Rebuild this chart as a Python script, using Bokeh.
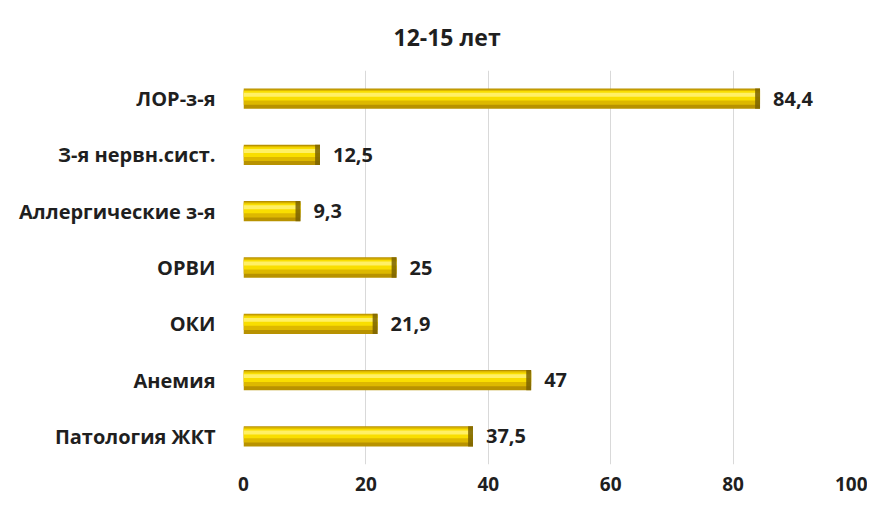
from bokeh.plotting import figure
from bokeh.models import FactorRange, ColumnDataSource, FixedTicker, Title
from bokeh.transform import dodge
from bokeh.core.properties import value
from bokeh.embed import file_html
from bokeh.resources import INLINE

title_text = "12-15 лет"
categories = ["ЛОР-з-я", "З-я нервн.сист.", "Аллергические з-я", "ОРВИ", "ОКИ", "Анемия", "Патология ЖКТ"]
values = [84.4, 12.5, 9.3, 25, 21.9, 47, 37.5]
value_labels = ["84,4", "12,5", "9,3", "25", "21,9", "47", "37,5"]
x_ticks = [0, 20, 40, 60, 80, 100]

FONT = "Open Sans"
TXT = "#1F1F1F"

src = ColumnDataSource(dict(
    cat=categories,
    val=values,
    lab=value_labels,
    cap=[v - 0.8 for v in values],
    zero=[0] * len(values),
))

p = figure(
    y_range=FactorRange(factors=list(reversed(categories))),
    x_range=(0, 100),
    frame_width=612, frame_height=394,
    min_border_left=243, min_border_right=12, min_border_top=66, min_border_bottom=33,
    output_backend="svg", toolbar_location=None,
    background_fill_color="white", border_fill_color="white",
)
p.outline_line_color = None

t = Title(text=title_text, align="left", offset=150, standoff=36,
          text_font=FONT, text_font_size="23px", text_font_style="bold",
          text_color=TXT)
p.add_layout(t, "above")

# bar layers for a cylinder-like gold look
p.hbar(y="cat", left="zero", right="val", height=0.36, source=src,
       fill_color="#B89200", line_color=None)
p.hbar(y=dodge("cat", 0.025, range=p.y_range), left="zero", right="val", height=0.27, source=src,
       fill_color="#DDB800", line_color=None)
p.hbar(y=dodge("cat", 0.05, range=p.y_range), left="zero", right="val", height=0.17, source=src,
       fill_color="#F9DE00", line_color=None)
p.hbar(y=dodge("cat", 0.07, range=p.y_range), left="zero", right="val", height=0.07, source=src,
       fill_color="#FFF066", line_color=None)
p.hbar(y="cat", left="cap", right="val", height=0.36, source=src,
       fill_color="#7A6200", fill_alpha=0.85, line_color=None)

p.text(x="val", y="cat", text="lab", source=src, x_offset=13,
       text_baseline="middle", text_align="left",
       text_font=value(FONT), text_font_size="20px", text_font_style="bold",
       text_color=TXT)

p.xgrid.ticker = FixedTicker(ticks=x_ticks)
p.xgrid.grid_line_color = "#D9D9D9"
p.ygrid.grid_line_color = None

p.xaxis.ticker = FixedTicker(ticks=x_ticks)
for ax in (p.xaxis[0], p.yaxis[0]):
    ax.axis_line_color = None
    ax.major_tick_line_color = None
    ax.minor_tick_line_color = None
    ax.major_label_text_font = FONT
    ax.major_label_text_font_style = "bold"
    ax.major_label_text_color = TXT
p.xaxis.major_label_text_font_size = "19px"
p.xaxis.major_label_standoff = 6
p.yaxis.major_label_text_font_size = "20px"
p.yaxis.major_label_standoff = 22

open("out.html", "w").write(file_html(p, INLINE))
